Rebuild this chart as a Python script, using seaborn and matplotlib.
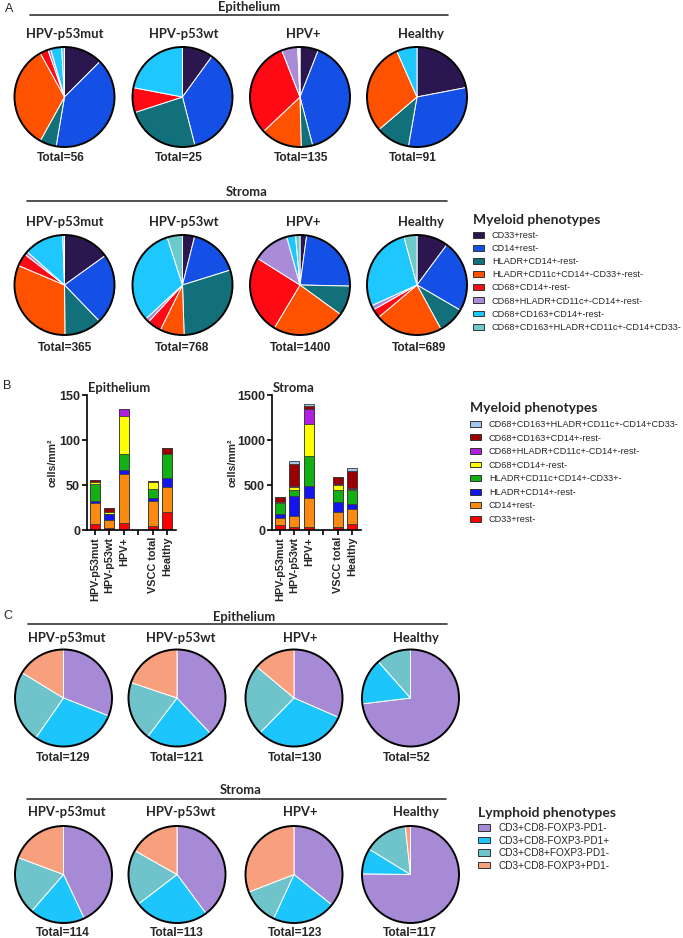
import numpy as np
import pandas as pd
import matplotlib.pyplot as plt
import seaborn as sns
from matplotlib.patches import Patch
from matplotlib.lines import Line2D

# ---------------- data ----------------
groups = ["HPV-p53mut", "HPV-p53wt", "HPV+", "Healthy"]
bar_groups = ["HPV-p53mut", "HPV-p53wt", "HPV+", "VSCC total", "Healthy"]
bar_order = ["HPV-p53mut", "HPV-p53wt", "HPV+", " ", "VSCC total", "Healthy"]

myeloid_pie_labels = ["CD33+rest-", "CD14+rest-", "HLADR+CD14+-rest-",
                      "HLADR+CD11c+CD14+-CD33+-rest-", "CD68+CD14+-rest-",
                      "CD68+HLADR+CD11c+-CD14+-rest-", "CD68+CD163+CD14+-rest-",
                      "CD68+CD163+HLADR+CD11c+-CD14+CD33-"]
myeloid_bar_labels = ["CD33+rest-", "CD14+rest-", "HLADR+CD14+-rest-",
                      "HLADR+CD11c+CD14+-CD33+-", "CD68+CD14+-rest-",
                      "CD68+HLADR+CD11c+-CD14+-rest-", "CD68+CD163+CD14+-rest-",
                      "CD68+CD163+HLADR+CD11c+-CD14+CD33-"]

# cells/mm2 per phenotype (same order as labels above)
epi_p53mut = [7, 22.5, 3, 19, 1.5, 0.5, 2, 0.5]
epi_p53wt = [2.5, 9, 6, 0, 2, 0, 5.5, 0]
epi_hpv = [8, 54, 5, 18, 42, 7, 0.5, 0.5]
epi_vscc = [5, 27, 4, 10, 7, 0.5, 0.5, 0.5]
epi_healthy = [20, 28, 10, 27, 0, 0, 6, 0]

str_p53mut = [55, 83, 44, 115, 15, 4, 47, 2]
str_p53wt = [30, 125, 225, 60, 35, 10, 245, 38]
str_hpv = [30, 325, 135, 330, 355, 165, 40, 20]
str_vscc = [35, 170, 105, 135, 50, 20, 70, 8]
str_healthy = [70, 160, 60, 150, 20, 10, 190, 29]

myeloid_epi_totals = ["56", "25", "135", "91"]
myeloid_str_totals = ["365", "768", "1400", "689"]

lymphoid_labels = ["CD3+CD8-FOXP3-PD1-", "CD3+CD8-FOXP3-PD1+",
                   "CD3+CD8+FOXP3-PD1-", "CD3+CD8-FOXP3+PD1-"]
lym_epi_p53mut = [40, 37, 31, 21]
lym_epi_p53wt = [46, 27, 24, 24]
lym_epi_hpv = [41, 40, 31, 18]
lym_epi_healthy = [38, 8, 6, 0]
lym_str_p53mut = [49, 21, 22, 22]
lym_str_p53wt = [45, 28, 21, 19]
lym_str_hpv = [44, 26, 15, 38]
lym_str_healthy = [88, 10, 17, 2]
lymphoid_epi_totals = ["129", "121", "130", "52"]
lymphoid_str_totals = ["114", "113", "123", "117"]

# ---------------- style ----------------
pie_colors = ["#2b1650", "#1450e6", "#12707a", "#ff5200",
              "#ff0a14", "#a98bd8", "#1ec8ff", "#6cc9cc"]
bar_colors = ["#ff0000", "#fb8a10", "#1414f0", "#12b012",
              "#ffff00", "#b01fe0", "#9b0000", "#a0c8f0"]
lym_colors = ["#a68ad6", "#1cc5fc", "#6fc4cc", "#f8a07e"]

sns.set_style("ticks")
plt.rcParams["font.family"] = ["Liberation Sans", "DejaVu Sans"]
TITLE_FONT = ["Lato", "DejaVu Sans"]

W, H = 683, 938
fig = plt.figure(figsize=(W / 100, H / 100), dpi=100)


def fx(x):
    return x / W


def fy(y):
    return 1 - y / H


def title_text(x, y, s, size=9.4, ha="center"):
    fig.text(fx(x), fy(y), s, ha=ha, va="center", fontsize=size,
             fontweight="bold", family=TITLE_FONT)


def total_text(x, y, s):
    fig.text(fx(x), fy(y), "Total=" + s, ha="center", va="center",
             fontsize=8.6, fontweight="bold")


def section(x0, x1, y_line, x_title, y_title, s):
    title_text(x_title, y_title, s)
    fig.add_artist(Line2D([fx(x0), fx(x1)], [fy(y_line), fy(y_line)],
                          color="#333333", lw=1.2))


def draw_pie(cx, cy, r, vals, colors):
    s = 2.1 * r
    ax = fig.add_axes([fx(cx - s / 2), fy(cy + s / 2), s / W, s / H])
    v = np.array(vals, dtype=float)
    keep = v > 0
    ax.pie(v[keep], colors=[c for c, k in zip(colors, keep) if k],
           startangle=90, counterclock=False,
           wedgeprops=dict(edgecolor="white", linewidth=0.7))
    ax.pie([1], colors=["none"], startangle=90,
           wedgeprops=dict(edgecolor="black", linewidth=1.4, fill=False))
    ax.set_xlim(-1.05, 1.05)
    ax.set_ylim(-1.05, 1.05)
    ax.set_aspect("equal")
    ax.axis("off")


def legend(x, y_top, labels, colors, size, spacing):
    handles = [Patch(facecolor=c, edgecolor="#333333", linewidth=0.7) for c in colors]
    fig.legend(handles, labels, loc="upper left",
               bbox_to_anchor=(fx(x), fy(y_top)), frameon=False,
               borderpad=0, borderaxespad=0, handlelength=1.2,
               handleheight=0.6, handletextpad=0.85, labelspacing=spacing,
               prop={"size": size, "family": ["Liberation Sans"]})


sub_y_x = [65, 184, 303, 421]

# ---------------- panel A ----------------
fig.text(fx(5), fy(9), "A", fontsize=9, va="center")
section(30, 448, 15, 249, 7, "Epithelium")
pie_x = [64.5, 182.5, 300, 417]
epi_sets = [epi_p53mut, epi_p53wt, epi_hpv, epi_healthy]
epi_tx = [61, 179, 301, 413]
for i, g in enumerate(groups):
    title_text(sub_y_x[i], 34, g)
    draw_pie(pie_x[i], 97, 50, epi_sets[i], pie_colors)
    total_text(epi_tx[i], 158, myeloid_epi_totals[i])

section(27, 447, 201, 247, 192, "Stroma")
str_sets = [str_p53mut, str_p53wt, str_hpv, str_healthy]
str_tx = [65, 182, 301, 419]
for i, g in enumerate(groups):
    title_text(sub_y_x[i], 222, g)
    draw_pie(pie_x[i], 285, 50, str_sets[i], pie_colors)
    total_text(str_tx[i], 348, myeloid_str_totals[i])

title_text(473, 220, "Myeloid phenotypes", size=10, ha="left")
legend(473, 231, myeloid_pie_labels, pie_colors, 6.6, 0.45)

# ---------------- panel B ----------------
fig.text(fx(3), fy(386), "B", fontsize=9, va="center")

all_sets = {"Epithelium": [epi_p53mut, epi_p53wt, epi_hpv, epi_vscc, epi_healthy],
            "Stroma": [str_p53mut, str_p53wt, str_hpv, str_vscc, str_healthy]}
axes_pos = {"Epithelium": (87, 176, 150, [0, 50, 100, 150], 119, 53),
            "Stroma": (272, 361, 1500, [0, 500, 1000, 1500], 294, 233)}

for tissue, sets in all_sets.items():
    x0, x1, ymax, yt, tx, lx = axes_pos[tissue]
    ax = fig.add_axes([fx(x0), fy(530), (x1 - x0) / W, (530 - 395) / H])
    rows = []
    for g, vals in zip(bar_groups, sets):
        cum = np.cumsum(vals)
        for k in range(len(vals)):
            rows.append({"group": g, "level": k, "cum": cum[k]})
    df = pd.DataFrame(rows)
    for k in range(len(bar_colors) - 1, -1, -1):
        sns.barplot(data=df[df.level == k], x="group", y="cum", order=bar_order,
                    color=bar_colors[k], saturation=1, width=0.7,
                    edgecolor="#3a3a3a", linewidth=0.6, errorbar=None, ax=ax)
    ax.set_ylim(0, ymax)
    ax.set_xlim(-0.55, 5.6)
    ax.set_yticks(yt)
    ax.set_xlabel("")
    ax.set_ylabel("")
    sns.despine(ax=ax)
    for sp in ["left", "bottom"]:
        ax.spines[sp].set_linewidth(1.2)
        ax.spines[sp].set_color("black")
    ax.tick_params(axis="both", length=3.5, width=1.2, color="black", pad=1.5)
    ax.tick_params(axis="y", labelsize=9)
    ax.tick_params(axis="x", labelsize=7.8, rotation=90)
    for lab in ax.get_xticklabels() + ax.get_yticklabels():
        lab.set_fontweight("bold")
    title_text(tx, 388, tissue)
    fig.text(fx(lx), fy(463), "cells/mm²", rotation=90, ha="center", va="center",
             fontsize=7.6, fontweight="bold")

title_text(470, 408, "Myeloid phenotypes", size=10, ha="left")
legend(470, 420, myeloid_bar_labels[::-1], bar_colors[::-1], 6.6, 0.5)

# ---------------- panel C ----------------
fig.text(fx(3), fy(616), "C", fontsize=9, va="center")
section(28, 447, 624, 244, 617, "Epithelium")
lpie_x = [63.5, 177, 294, 410.5]
lsub_x = [67, 181, 300, 416]
lym_epi = [lym_epi_p53mut, lym_epi_p53wt, lym_epi_hpv, lym_epi_healthy]
lym_str = [lym_str_p53mut, lym_str_p53wt, lym_str_hpv, lym_str_healthy]
ltx_epi = [63, 177, 295, 407]
ltx_str = [63, 177, 295, 410]
for i, g in enumerate(groups):
    title_text(lsub_x[i], 638, g)
    draw_pie(lpie_x[i], 698, 48.5, lym_epi[i], lym_colors)
    total_text(ltx_epi[i], 758, lymphoid_epi_totals[i])

section(27, 446, 799, 241, 790, "Stroma")
for i, g in enumerate(groups):
    title_text(lsub_x[i], 812, g)
    draw_pie(lpie_x[i], 874.5, 48.5, lym_str[i], lym_colors)
    total_text(ltx_str[i], 933, lymphoid_str_totals[i])

title_text(478, 813, "Lymphoid phenotypes", size=10, ha="left")
legend(478, 823, lymphoid_labels, lym_colors, 7.2, 0.25)

fig.savefig("out.png", dpi=100)
